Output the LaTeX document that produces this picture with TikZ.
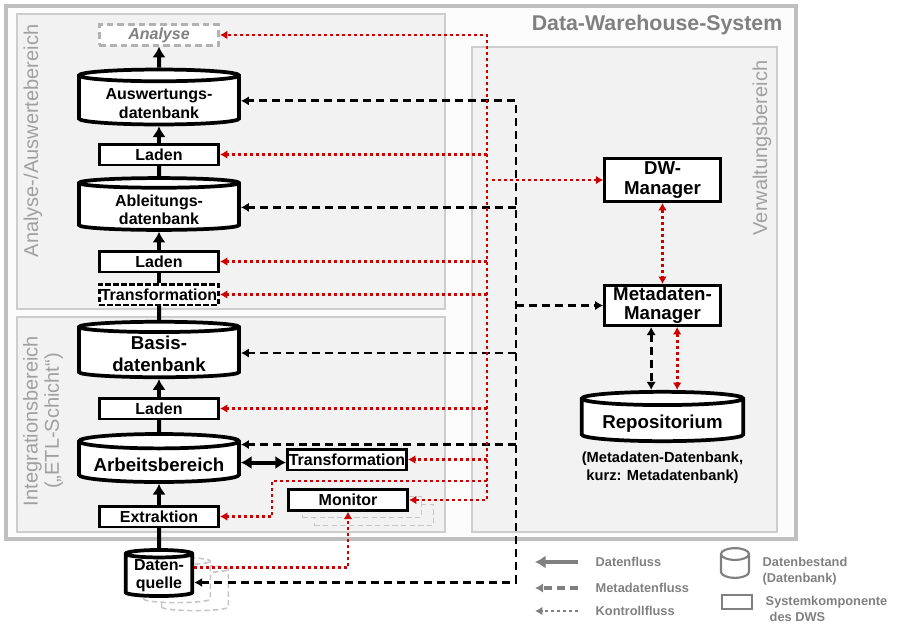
\documentclass[tikz,border=0pt]{standalone}
\usepackage{fontspec}
\setmainfont{Liberation Sans}
\usetikzlibrary{shapes.geometric}
\usetikzlibrary{arrows.meta,arrows}
\usetikzlibrary{positioning}
\definecolor{ctrlred}{RGB}{204,0,0}
\definecolor{areafill}{RGB}{242,242,242}
\definecolor{arealine}{RGB}{205,205,205}
\definecolor{labelgray}{RGB}{128,128,128}
\newcommand{\dbstrut}[1]{\rule{0pt}{#1}}
\tikzset{
	area/.style={draw=arealine, fill=areafill, line width=0.9pt},
	arealabel/.style={rotate=90, text=labelgray!75, align=center, font=\fontsize{15}{16}\selectfont},
	component/.style={rectangle, draw, fill=white, line width=2pt, inner sep=0pt, minimum width=89.5pt, minimum height=15.5pt, align=center, font=\bfseries\fontsize{12}{14}\selectfont},
	database/.style={cylinder, shape border rotate=90, anchor=shape center, draw, fill=white, line width=2.8pt, aspect=0.11, inner sep=0pt, minimum width=120pt, minimum height=35pt, align=center, font=\bfseries\fontsize{12}{14}\selectfont},
	ghost/.style={draw=gray!45, line width=1.2pt, dash pattern=on 4pt off 2.5pt},
	dataflow/.style={draw, line width=3pt, >={Latex[length=8pt,width=10pt]}, ->},
	dataline/.style={draw, line width=3pt},
	metaflow/.style={draw, line width=2.2pt, dash pattern=on 6pt off 3.8pt, >={Latex[length=6pt,width=7pt]}, ->},
	ctrlflow/.style={draw=ctrlred, line width=2.2pt, dash pattern=on 2.2pt off 2.3pt, >={Latex[length=5.5pt,width=6.5pt]}, ->},
	legendtext/.style={text=labelgray, anchor=west, align=left, font=\bfseries\fontsize{9.6}{12}\selectfont}
}

\begin{document}
\begin{tikzpicture}[x=0.75pt, y=-0.75pt]
\useasboundingbox (0,0) rectangle (918,640);
\draw[draw=gray!50, fill=gray!2, line width=2.6pt] (6,6) rectangle (796,539);
\draw[area] (17,14) rectangle (445,309);
\draw[area] (17,317) rectangle (445,532);
\draw[area] (472,47) rectangle (777,532);

\node[anchor=east, text=labelgray, font=\bfseries\fontsize{16}{18}\selectfont] (dws) at (787,25) {Data-Warehouse-System};
\node[arealabel] (analysebereich) at (33,141) {Analyse-/Auswertebereich};
\node[arealabel] (integrationsbereich) at (43,421) {Integrationsbereich\\(„ETL-Schicht“)};
\node[arealabel] (verwaltungsbereich) at (762,148) {Verwaltungsbereich};

\node[component, draw=gray!60, dash pattern=on 5pt off 3pt, text=labelgray, font=\bfseries\itshape\fontsize{12}{14}\selectfont] (analyse) at (159,35) {Analyse};
\node[database] (auswert) at (159,97) {\dbstrut{12.5pt}Auswertungs-\\datenbank};
\node[component] (laden1) at (159,154.5) {Laden};
\node[database] (ableit) at (159,204) {\dbstrut{12.5pt}Ableitungs-\\datenbank};
\node[component] (laden2) at (159,261.5) {Laden};
\node[component, dash pattern=on 4pt off 2pt] (trans1) at (159,294.5) {Transformation};
\node[database, minimum height=37pt, font=\bfseries\fontsize{14}{16.5}\selectfont] (basis) at (159,349.5) {\dbstrut{12pt}Basis-\\datenbank};
\node[component] (laden3) at (159,408.5) {Laden};
\node[database, minimum height=36pt, font=\bfseries\fontsize{14}{16}\selectfont] (arbeit) at (159,458) {\dbstrut{13.5pt}Arbeitsbereich};
\node[component] (extrakt) at (159,516.5) {Extraktion};
\node[component] (trans2) at (347,459.5) {Transformation};
\node[component, ghost, fill=areafill] (monitor2) at (374,515) {};
\node[component, ghost, fill=areafill] (monitor1) at (362,507) {};
\node[component] (monitor) at (348,500) {Monitor};
\node[database, ghost, minimum width=50pt, minimum height=34pt, aspect=0.15] (quelle2) at (195,588) {\phantom{Daten-}\\\phantom{quelle}};
\node[database, ghost, minimum width=50pt, minimum height=34pt, aspect=0.15] (quelle1) at (177,580) {\phantom{Daten-}\\\phantom{quelle}};
\node[database, minimum width=50pt, minimum height=34pt, aspect=0.15] (quelle) at (159,573) {Daten-\\quelle};

\node[component, minimum width=87pt, minimum height=32.5pt, font=\bfseries\fontsize{14}{14.5}\selectfont] (dwm) at (662.5,180) {DW-\\Manager};
\node[component, minimum width=87pt, minimum height=30.25pt, font=\bfseries\fontsize{14}{14.5}\selectfont] (mmgr) at (662.5,305.5) {Metadaten-\\Manager};
\node[database, minimum width=121pt, minimum height=37pt, font=\bfseries\fontsize{14}{16}\selectfont] (repo) at (662.5,416.5) {\dbstrut{14.5pt}Repositorium};
\node[font=\bfseries\fontsize{11}{13.5}\selectfont, align=center, below=3pt of repo] (repocaption) {(Metadaten-Datenbank,\\kurz: Metadatenbank)};

\coordinate (ctrunk) at (487,300);
\coordinate (mtrunk) at (516,300);
\coordinate (cext) at (272,481);

\draw[dataline] (quelle) -- (extrakt);
\draw[dataflow] (extrakt) -- (arbeit);
\draw[dataline] (arbeit) -- (laden3);
\draw[dataflow] (laden3) -- (basis);
\draw[dataline] (basis) -- (trans1);
\draw[dataline] (trans1) -- (laden2);
\draw[dataflow] (laden2) -- (ableit);
\draw[dataline] (ableit) -- (laden1);
\draw[dataflow] (laden1) -- (auswert);
\draw[dataflow] (auswert) -- (analyse);
\draw[dataflow, <->] (arbeit.east) -- (arbeit.east -| trans2.west);

\draw[metaflow, <->] ([yshift=-5pt]quelle.east) -| (mtrunk) |- (auswert.east);
\foreach \n in {ableit, basis}
	\draw[metaflow] (mtrunk |- \n.east) -- (\n.east);
\draw[metaflow] ([yshift=13.5pt]arbeit.east -| mtrunk) -- ([yshift=13.5pt]arbeit.east);
\draw[metaflow] (mtrunk |- mmgr.west) -- (mmgr.west);
\draw[metaflow, <->] ([xshift=-8.5pt]mmgr.south) -- ([xshift=-8.5pt]mmgr.south |- repo.north);

\draw[ctrlflow, <->] (monitor.east) -| (ctrunk) |- (analyse.east);
\foreach \n in {laden1, laden2, trans1, laden3, trans2}
	\draw[ctrlflow] (ctrunk |- \n.east) -- (\n.east);
\draw[ctrlflow] (ctrunk |- cext) -- (cext) |- (extrakt.east);
\draw[ctrlflow] ([xshift=4pt]ctrunk |- dwm.west) -- (dwm.west);
\draw[ctrlflow] ([yshift=6pt]quelle.east) -| (monitor.south);
\draw[ctrlflow, <->] (dwm) -- (mmgr);
\draw[ctrlflow, <->] ([xshift=11pt]mmgr.south) -- ([xshift=11pt]mmgr.south |- repo.north);

\node[legendtext] (lflow) at (591,562) {Datenfluss};
\node[legendtext] (lmeta) at (591,588) {Metadatenfluss};
\node[legendtext] (lctrl) at (591,611) {Kontrollfluss};
\draw[dataflow, draw=labelgray, line width=3.5pt] ([xshift=-10pt]lflow.west) -- ([xshift=-42pt]lflow.west);
\draw[metaflow, draw=labelgray, line width=2.6pt] ([xshift=-10pt]lmeta.west) -- ([xshift=-42pt]lmeta.west);
\draw[ctrlflow, draw=labelgray] ([xshift=-10pt]lctrl.west) -- ([xshift=-42pt]lctrl.west);
\node[database, draw=labelgray, fill=none, line width=1.6pt, minimum width=21pt, minimum height=18pt, aspect=0.6] (legdb) at (735,563) {\phantom{Xx}};
\node[component, draw=labelgray, fill=none, line width=1.6pt, minimum width=22.5pt, minimum height=10.5pt] (legcomp) at (737,602) {};
\node[legendtext] (ldb) at (758,571) {Datenbestand\\(Datenbank)};
\node[legendtext] (lcomp) at (761,609) {Systemkomponente\\\hspace*{3pt}des DWS};
\end{tikzpicture}
\end{document}
